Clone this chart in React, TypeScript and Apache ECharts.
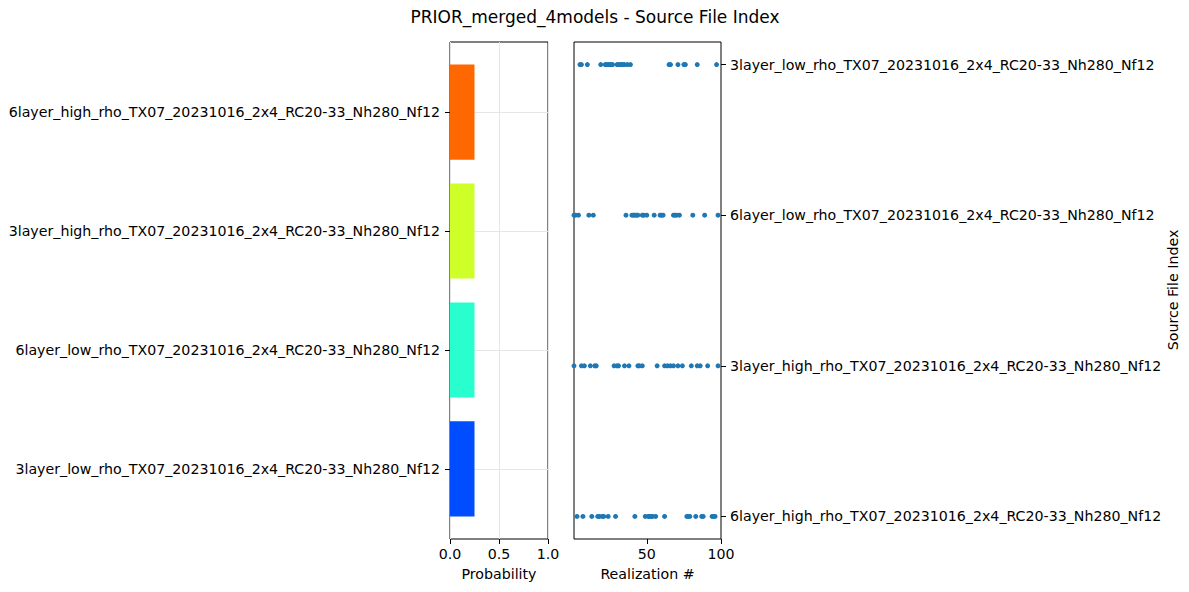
import React, { useEffect, useRef } from "react";
import * as echarts from "echarts";

const title = "PRIOR_merged_4models - Source File Index";
// index 0..3
const sourceFiles = [
  "3layer_low_rho_TX07_20231016_2x4_RC20-33_Nh280_Nf12",
  "6layer_low_rho_TX07_20231016_2x4_RC20-33_Nh280_Nf12",
  "3layer_high_rho_TX07_20231016_2x4_RC20-33_Nh280_Nf12",
  "6layer_high_rho_TX07_20231016_2x4_RC20-33_Nh280_Nf12",
];
const probabilities = [0.25, 0.25, 0.25, 0.25];
const barColors = ["#004cff", "#29ffce", "#ceff29", "#ff6800"];

const realizations0 = [5, 6, 10, 19, 22, 23, 24, 25, 26, 27, 30, 31, 32, 33, 34, 35, 37, 39, 65, 66, 71, 75, 76, 84, 97];
const realizations1 = [1, 2, 4, 11, 14, 36, 40, 41, 42, 43, 44, 47, 48, 50, 55, 59, 60, 61, 68, 69, 70, 72, 81, 89, 98];
const realizations2 = [1, 6, 8, 12, 15, 16, 28, 30, 31, 35, 38, 44, 45, 47, 57, 62, 64, 66, 68, 71, 74, 80, 84, 86, 91, 98];
const realizations3 = [3, 7, 13, 17, 18, 20, 21, 24, 29, 42, 49, 51, 52, 53, 54, 56, 62, 77, 78, 79, 83, 87, 88, 94, 95, 96];
const realizationsByFile = [realizations0, realizations1, realizations2, realizations3];

const xTicksProb = [0, 0.5, 1];
const xTicksReal = [50, 100];
const fileIdx = [0, 1, 2, 3];

const FONT = "DejaVu Sans";

export default function App() {
  const ref = useRef<HTMLDivElement>(null);
  useEffect(() => {
    if (!ref.current) return;
    const chart = echarts.init(ref.current, null, { renderer: "svg" });
    const scatterData: number[][] = [];
    realizationsByFile.forEach((arr, i) => arr.forEach((r) => scatterData.push([r, i])));
    const labelStyle = { color: "#000", fontFamily: FONT, fontSize: 14.2 };
    const noLine = { show: false, onZero: false };
    chart.setOption({
      animation: false,
      backgroundColor: "#fff",
      textStyle: { fontFamily: FONT },
      graphic: [
        {
          type: "text",
          x: 595,
          y: 17,
          style: { text: title, fill: "#000", font: `17px '${FONT}'`, textAlign: "center", textVerticalAlign: "middle" },
        },
        {
          type: "text",
          x: 1173,
          y: 290,
          rotation: Math.PI / 2,
          style: { text: "Source File Index", fill: "#000", font: `14.2px '${FONT}'`, textAlign: "center", textVerticalAlign: "middle" },
        },
      ],
      grid: [
        { left: 450, top: 42, width: 98, height: 497, show: true, borderColor: "#000", borderWidth: 1, backgroundColor: "transparent" },
        { left: 574, top: 42, width: 147, height: 497, show: true, borderColor: "#000", borderWidth: 1, backgroundColor: "transparent" },
      ],
      xAxis: [
        {
          gridIndex: 0,
          type: "value",
          min: 0,
          max: 1,
          interval: 0.5,
          axisLine: noLine,
          axisTick: { show: true, length: 5, lineStyle: { color: "#000" }, customValues: xTicksProb },
          axisLabel: { ...labelStyle, margin: 8, formatter: (v: number) => v.toFixed(1), customValues: xTicksProb },
          splitLine: { show: true, lineStyle: { color: "#e6e6e6", width: 1 } },
          name: "Probability",
          nameLocation: "middle",
          nameGap: 28,
          nameTextStyle: { ...labelStyle, verticalAlign: "top" },
        },
        {
          gridIndex: 1,
          type: "value",
          min: 1,
          max: 100,
          axisLine: noLine,
          axisTick: { show: true, length: 5, lineStyle: { color: "#000" }, customValues: xTicksReal },
          axisLabel: { ...labelStyle, margin: 8, customValues: xTicksReal },
          splitLine: { show: false },
          name: "Realization #",
          nameLocation: "middle",
          nameGap: 28,
          nameTextStyle: { ...labelStyle, verticalAlign: "top" },
        },
      ],
      yAxis: [
        {
          gridIndex: 0,
          type: "value",
          min: -0.59,
          max: 3.59,
          axisLine: noLine,
          axisTick: { show: true, length: 5, lineStyle: { color: "#000" }, customValues: fileIdx },
          axisLabel: { ...labelStyle, margin: 10, formatter: (v: number) => sourceFiles[Math.round(v)] ?? "", customValues: fileIdx },
          splitLine: { show: true, lineStyle: { color: "#e6e6e6", width: 1 } },
        },
        {
          gridIndex: 1,
          type: "value",
          position: "right",
          inverse: true,
          min: -0.15,
          max: 3.15,
          axisLine: noLine,
          axisTick: { show: true, length: 5, lineStyle: { color: "#000" }, customValues: fileIdx },
          axisLabel: { ...labelStyle, margin: 9, formatter: (v: number) => sourceFiles[Math.round(v)] ?? "", customValues: fileIdx },
          splitLine: { show: false },
        },
      ],
      series: [
        {
          type: "custom",
          xAxisIndex: 0,
          yAxisIndex: 0,
          data: probabilities.map((p, i) => ({ value: [p, i], itemStyle: { color: barColors[i] } })),
          renderItem: (params: any, api: any) => {
            const v = api.value(0);
            const y = api.value(1);
            const s = api.coord([0, y]);
            const e = api.coord([v, y]);
            const h = api.size([0, 0.8])[1];
            return {
              type: "rect",
              shape: { x: s[0], y: s[1] - h / 2, width: e[0] - s[0], height: h },
              style: { fill: api.visual("color") },
            };
          },
          z: 3,
        },
        {
          type: "scatter",
          xAxisIndex: 1,
          yAxisIndex: 1,
          data: scatterData,
          symbolSize: 5,
          itemStyle: { color: "#1f77b4", opacity: 1 },
          clip: false,
        },
      ],
    });
    return () => chart.dispose();
  }, []);
  return <div ref={ref} style={{ position: "fixed", left: 0, top: 0, width: 1189, height: 592 }} />;
}
